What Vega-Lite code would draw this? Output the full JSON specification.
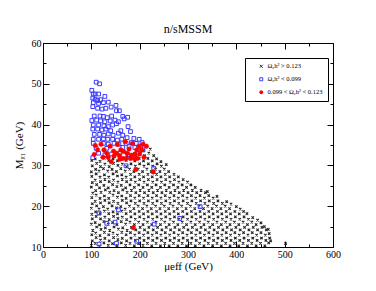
{
"$schema":"https://vega.github.io/schema/vega-lite/v6.json",
"width":290,"height":204,"autosize":"none",
"padding":{"left":43,"top":43,"right":43,"bottom":44},
"background":"white",
"title":{"text":"n/sMSSM","font":"Liberation Serif","fontSize":12,"fontWeight":"normal","color":"black","offset":8,"dy":6,"anchor":"middle"},
"datasets":{
"bk":[
{"u":100,"m":10.4},{"u":102,"m":11.5},{"u":101,"m":13.0},{"u":103,"m":14.1},{"u":100,"m":15.6},{"u":102,"m":16.9},{"u":101,"m":18.0},{"u":100,"m":19.5},{"u":102,"m":20.6},{"u":101,"m":22.1},{"u":103,"m":23.2},{"u":100,"m":24.7},{"u":102,"m":25.8},{"u":101,"m":27.3},{"u":100,"m":28.4},{"u":102,"m":29.9},{"u":101,"m":31.2},
{"u":108,"m":10.9},{"u":110,"m":12.3},{"u":109,"m":13.4},{"u":111,"m":14.9},{"u":108,"m":16.0},{"u":110,"m":17.5},{"u":109,"m":18.6},{"u":111,"m":20.1},{"u":108,"m":21.2},{"u":110,"m":22.7},{"u":109,"m":23.8},{"u":111,"m":25.3},{"u":108,"m":26.4},{"u":110,"m":27.9},{"u":109,"m":29.0},{"u":111,"m":30.5},{"u":108,"m":31.6},
{"u":117,"m":10.2},{"u":119,"m":11.7},{"u":118,"m":12.8},{"u":120,"m":14.3},{"u":117,"m":15.4},{"u":119,"m":16.9},{"u":118,"m":18.2},{"u":116,"m":19.3},{"u":119,"m":20.8},{"u":118,"m":21.9},{"u":120,"m":23.4},{"u":117,"m":24.5},{"u":119,"m":26.0},{"u":118,"m":27.1},{"u":116,"m":28.6},{"u":119,"m":29.7},{"u":118,"m":31.0},
{"u":126,"m":11.0},{"u":128,"m":12.1},{"u":127,"m":13.6},{"u":129,"m":14.7},{"u":126,"m":16.2},{"u":128,"m":17.3},{"u":127,"m":18.8},{"u":125,"m":19.9},{"u":128,"m":21.4},{"u":127,"m":22.5},{"u":129,"m":24.0},{"u":126,"m":25.1},{"u":128,"m":26.6},{"u":127,"m":27.7},{"u":125,"m":29.2},{"u":128,"m":30.3},{"u":127,"m":31.8},
{"u":135,"m":10.4},{"u":137,"m":11.5},{"u":136,"m":13.0},{"u":138,"m":14.1},{"u":135,"m":15.6},{"u":137,"m":16.7},{"u":136,"m":18.2},{"u":134,"m":19.3},{"u":137,"m":20.8},{"u":136,"m":21.9},{"u":138,"m":23.4},{"u":135,"m":24.5},{"u":137,"m":26.0},{"u":136,"m":27.1},{"u":134,"m":28.6},{"u":137,"m":29.7},{"u":136,"m":31.2},
{"u":144,"m":10.8},{"u":146,"m":12.3},{"u":145,"m":13.4},{"u":147,"m":14.9},{"u":144,"m":16.0},{"u":146,"m":17.5},{"u":145,"m":18.6},{"u":143,"m":20.1},{"u":146,"m":21.2},{"u":145,"m":22.7},{"u":147,"m":23.8},{"u":144,"m":25.3},{"u":146,"m":26.4},{"u":145,"m":27.9},{"u":143,"m":29.0},{"u":146,"m":30.5},{"u":145,"m":31.6},
{"u":153,"m":10.3},{"u":155,"m":11.8},{"u":154,"m":12.9},{"u":156,"m":14.4},{"u":153,"m":15.5},{"u":155,"m":17.0},{"u":154,"m":18.1},{"u":152,"m":19.6},{"u":155,"m":20.7},{"u":154,"m":22.2},{"u":156,"m":23.3},{"u":153,"m":24.8},{"u":155,"m":25.9},{"u":154,"m":27.4},{"u":152,"m":28.5},{"u":155,"m":30.0},{"u":154,"m":31.1},
{"u":162,"m":11.0},{"u":164,"m":12.1},{"u":163,"m":13.6},{"u":165,"m":14.7},{"u":162,"m":16.2},{"u":164,"m":17.3},{"u":163,"m":18.8},{"u":161,"m":19.9},{"u":164,"m":21.4},{"u":163,"m":22.5},{"u":165,"m":24.0},{"u":162,"m":25.1},{"u":164,"m":26.6},{"u":163,"m":27.7},{"u":161,"m":29.2},{"u":164,"m":30.3},{"u":163,"m":31.8},
{"u":171,"m":10.4},{"u":173,"m":11.5},{"u":172,"m":13.0},{"u":174,"m":14.1},{"u":171,"m":15.6},{"u":173,"m":16.7},{"u":172,"m":18.2},{"u":170,"m":19.3},{"u":173,"m":20.8},{"u":172,"m":21.9},{"u":174,"m":23.4},{"u":171,"m":24.5},{"u":173,"m":26.0},{"u":172,"m":27.1},{"u":170,"m":28.6},{"u":173,"m":29.7},{"u":172,"m":31.2},{"u":174,"m":32.4},
{"u":180,"m":10.9},{"u":182,"m":12.2},{"u":181,"m":13.5},{"u":183,"m":14.8},{"u":180,"m":16.1},{"u":182,"m":17.4},{"u":181,"m":18.7},{"u":179,"m":20.0},{"u":182,"m":21.3},{"u":181,"m":22.6},{"u":183,"m":23.9},{"u":180,"m":25.2},{"u":182,"m":26.5},{"u":181,"m":27.8},{"u":179,"m":29.1},{"u":182,"m":30.4},{"u":181,"m":31.7},
{"u":189,"m":10.3},{"u":191,"m":11.6},{"u":190,"m":12.9},{"u":192,"m":14.2},{"u":189,"m":15.5},{"u":191,"m":16.8},{"u":190,"m":18.1},{"u":188,"m":19.4},{"u":191,"m":20.7},{"u":190,"m":22.0},{"u":192,"m":23.3},{"u":189,"m":24.6},{"u":191,"m":25.9},{"u":190,"m":27.2},{"u":188,"m":28.5},{"u":191,"m":29.8},{"u":190,"m":31.1},{"u":192,"m":32.4},
{"u":198,"m":10.8},{"u":200,"m":12.2},{"u":199,"m":13.5},{"u":201,"m":14.8},{"u":198,"m":16.1},{"u":200,"m":17.4},{"u":199,"m":18.7},{"u":197,"m":20.0},{"u":200,"m":21.3},{"u":199,"m":22.6},{"u":201,"m":23.9},{"u":198,"m":25.2},{"u":200,"m":26.5},{"u":199,"m":27.8},{"u":197,"m":29.1},{"u":200,"m":30.4},{"u":199,"m":31.7},{"u":201,"m":33.0},
{"u":207,"m":10.4},{"u":209,"m":11.6},{"u":208,"m":12.9},{"u":210,"m":14.2},{"u":207,"m":15.5},{"u":209,"m":16.8},{"u":208,"m":18.1},{"u":206,"m":19.4},{"u":209,"m":20.7},{"u":208,"m":22.0},{"u":210,"m":23.3},{"u":207,"m":24.6},{"u":209,"m":25.9},{"u":208,"m":27.2},{"u":206,"m":28.5},{"u":209,"m":29.8},{"u":208,"m":31.1},{"u":210,"m":32.4},{"u":208,"m":33.6},
{"u":216,"m":10.9},{"u":218,"m":12.2},{"u":217,"m":13.5},{"u":219,"m":14.8},{"u":216,"m":16.1},{"u":218,"m":17.4},{"u":217,"m":18.7},{"u":215,"m":20.0},{"u":218,"m":21.3},{"u":217,"m":22.6},{"u":219,"m":23.9},{"u":216,"m":25.2},{"u":218,"m":26.5},{"u":217,"m":27.8},{"u":215,"m":29.1},{"u":218,"m":30.4},{"u":217,"m":31.7},{"u":219,"m":33.0},{"u":222,"m":34.0},
{"u":225,"m":10.3},{"u":227,"m":11.6},{"u":226,"m":12.9},{"u":228,"m":14.2},{"u":225,"m":15.5},{"u":227,"m":16.8},{"u":226,"m":18.1},{"u":224,"m":19.4},{"u":227,"m":20.7},{"u":226,"m":22.0},{"u":228,"m":23.3},{"u":225,"m":24.6},{"u":227,"m":25.9},{"u":226,"m":27.2},{"u":224,"m":28.5},{"u":227,"m":29.8},{"u":226,"m":31.1},{"u":229,"m":32.4},
{"u":234,"m":10.9},{"u":236,"m":12.2},{"u":235,"m":13.5},{"u":237,"m":14.8},{"u":234,"m":16.1},{"u":236,"m":17.4},{"u":235,"m":18.7},{"u":233,"m":20.0},{"u":236,"m":21.3},{"u":235,"m":22.6},{"u":237,"m":23.9},{"u":234,"m":25.2},{"u":236,"m":26.5},{"u":235,"m":27.8},{"u":233,"m":29.1},{"u":236,"m":30.4},{"u":235,"m":31.6},
{"u":243,"m":10.3},{"u":245,"m":11.6},{"u":244,"m":12.9},{"u":246,"m":14.2},{"u":243,"m":15.5},{"u":245,"m":16.8},{"u":244,"m":18.1},{"u":242,"m":19.4},{"u":245,"m":20.7},{"u":244,"m":22.0},{"u":246,"m":23.3},{"u":243,"m":24.6},{"u":245,"m":25.9},{"u":244,"m":27.2},{"u":242,"m":28.5},{"u":245,"m":29.8},{"u":244,"m":30.9},
{"u":252,"m":10.9},{"u":254,"m":12.2},{"u":253,"m":13.5},{"u":255,"m":14.8},{"u":252,"m":16.1},{"u":254,"m":17.4},{"u":253,"m":18.7},{"u":251,"m":20.0},{"u":254,"m":21.3},{"u":253,"m":22.6},{"u":255,"m":23.9},{"u":252,"m":25.2},{"u":254,"m":26.5},{"u":253,"m":27.8},{"u":251,"m":29.1},{"u":255,"m":30.2},
{"u":261,"m":10.3},{"u":263,"m":11.6},{"u":262,"m":12.9},{"u":264,"m":14.2},{"u":261,"m":15.5},{"u":263,"m":16.8},{"u":262,"m":18.1},{"u":260,"m":19.4},{"u":263,"m":20.7},{"u":262,"m":22.0},{"u":264,"m":23.3},{"u":261,"m":24.6},{"u":263,"m":25.9},{"u":262,"m":27.2},{"u":260,"m":28.5},
{"u":270,"m":10.9},{"u":272,"m":12.2},{"u":271,"m":13.5},{"u":273,"m":14.8},{"u":270,"m":16.1},{"u":272,"m":17.4},{"u":271,"m":18.7},{"u":269,"m":20.0},{"u":272,"m":21.3},{"u":271,"m":22.6},{"u":273,"m":23.9},{"u":270,"m":25.2},{"u":272,"m":26.5},{"u":271,"m":27.8},
{"u":279,"m":10.3},{"u":281,"m":11.6},{"u":280,"m":12.9},{"u":282,"m":14.2},{"u":279,"m":15.5},{"u":281,"m":16.8},{"u":280,"m":18.1},{"u":278,"m":19.4},{"u":281,"m":20.7},{"u":280,"m":22.0},{"u":282,"m":23.3},{"u":279,"m":24.6},{"u":281,"m":25.9},{"u":280,"m":27.2},
{"u":288,"m":10.9},{"u":290,"m":12.2},{"u":289,"m":13.5},{"u":291,"m":14.8},{"u":288,"m":16.1},{"u":290,"m":17.4},{"u":289,"m":18.7},{"u":287,"m":20.0},{"u":290,"m":21.3},{"u":289,"m":22.6},{"u":291,"m":23.9},{"u":288,"m":25.2},{"u":290,"m":26.5},
{"u":297,"m":10.3},{"u":299,"m":11.6},{"u":298,"m":12.9},{"u":300,"m":14.2},{"u":297,"m":15.5},{"u":299,"m":16.8},{"u":298,"m":18.1},{"u":296,"m":19.4},{"u":299,"m":20.7},{"u":298,"m":22.0},{"u":300,"m":23.3},{"u":297,"m":24.6},{"u":299,"m":25.9},
{"u":306,"m":10.9},{"u":308,"m":12.2},{"u":307,"m":13.5},{"u":309,"m":14.8},{"u":306,"m":16.1},{"u":308,"m":17.4},{"u":307,"m":18.7},{"u":305,"m":20.0},{"u":308,"m":21.3},{"u":307,"m":22.6},{"u":309,"m":23.9},{"u":306,"m":25.2},
{"u":315,"m":10.3},{"u":317,"m":11.6},{"u":316,"m":12.9},{"u":318,"m":14.2},{"u":315,"m":15.5},{"u":317,"m":16.8},{"u":316,"m":18.1},{"u":314,"m":19.4},{"u":317,"m":20.7},{"u":316,"m":22.0},{"u":318,"m":23.3},{"u":315,"m":24.6},
{"u":324,"m":10.9},{"u":326,"m":12.2},{"u":325,"m":13.5},{"u":327,"m":14.8},{"u":324,"m":16.1},{"u":326,"m":17.4},{"u":325,"m":18.7},{"u":323,"m":20.0},{"u":326,"m":21.3},{"u":325,"m":22.6},{"u":327,"m":23.9},
{"u":333,"m":10.3},{"u":335,"m":11.6},{"u":334,"m":12.9},{"u":336,"m":14.2},{"u":333,"m":15.5},{"u":335,"m":16.8},{"u":334,"m":18.1},{"u":332,"m":19.4},{"u":335,"m":20.7},{"u":334,"m":22.0},{"u":336,"m":23.3},
{"u":342,"m":10.9},{"u":344,"m":12.2},{"u":343,"m":13.5},{"u":345,"m":14.8},{"u":342,"m":16.1},{"u":344,"m":17.4},{"u":343,"m":18.7},{"u":341,"m":20.0},{"u":344,"m":21.3},{"u":343,"m":22.6},{"u":340,"m":23.6},
{"u":351,"m":10.3},{"u":353,"m":11.6},{"u":352,"m":12.9},{"u":354,"m":14.2},{"u":351,"m":15.5},{"u":353,"m":16.8},{"u":352,"m":18.1},{"u":350,"m":19.4},{"u":353,"m":20.7},{"u":352,"m":22.0},
{"u":360,"m":10.9},{"u":362,"m":12.2},{"u":361,"m":13.5},{"u":363,"m":14.8},{"u":360,"m":16.1},{"u":362,"m":17.4},{"u":361,"m":18.7},{"u":359,"m":20.0},{"u":362,"m":21.3},{"u":360,"m":22.4},
{"u":369,"m":10.3},{"u":371,"m":11.6},{"u":370,"m":12.9},{"u":372,"m":14.2},{"u":369,"m":15.5},{"u":371,"m":16.8},{"u":370,"m":18.1},{"u":368,"m":19.4},{"u":371,"m":20.7},
{"u":378,"m":10.9},{"u":380,"m":12.2},{"u":379,"m":13.5},{"u":381,"m":14.8},{"u":378,"m":16.1},{"u":380,"m":17.4},{"u":379,"m":18.7},{"u":377,"m":20.0},{"u":380,"m":21.1},
{"u":387,"m":10.3},{"u":389,"m":11.6},{"u":388,"m":12.9},{"u":390,"m":14.2},{"u":387,"m":15.5},{"u":389,"m":16.8},{"u":388,"m":18.1},{"u":386,"m":19.4},{"u":389,"m":20.5},
{"u":396,"m":10.9},{"u":398,"m":12.2},{"u":397,"m":13.5},{"u":399,"m":14.8},{"u":396,"m":16.1},{"u":398,"m":17.4},{"u":397,"m":18.7},{"u":400,"m":19.9},
{"u":405,"m":10.3},{"u":407,"m":11.6},{"u":406,"m":12.9},{"u":408,"m":14.2},{"u":405,"m":15.5},{"u":407,"m":16.8},{"u":406,"m":18.1},{"u":408,"m":19.3},
{"u":414,"m":10.9},{"u":416,"m":12.2},{"u":415,"m":13.5},{"u":417,"m":14.8},{"u":414,"m":16.1},{"u":416,"m":17.4},{"u":415,"m":18.7},
{"u":423,"m":10.3},{"u":425,"m":11.6},{"u":424,"m":12.9},{"u":426,"m":14.2},{"u":423,"m":15.5},{"u":425,"m":16.8},{"u":422,"m":18.2},
{"u":432,"m":10.9},{"u":434,"m":12.2},{"u":433,"m":13.5},{"u":435,"m":14.8},{"u":432,"m":16.1},{"u":434,"m":17.2},
{"u":441,"m":10.3},{"u":443,"m":11.6},{"u":442,"m":12.9},{"u":444,"m":14.2},{"u":441,"m":15.5},{"u":444,"m":16.6},
{"u":450,"m":10.9},{"u":452,"m":12.2},{"u":451,"m":13.5},{"u":453,"m":14.8},{"u":451,"m":15.9},
{"u":459,"m":10.3},{"u":461,"m":11.6},{"u":460,"m":12.9},{"u":462,"m":14.2},{"u":458,"m":15.0},
{"u":467,"m":11.0},{"u":469,"m":12.2},{"u":468,"m":13.3},{"u":466,"m":14.3},{"u":471,"m":11.5},{"u":502,"m":10.8}
],
"bl":[
{"u":110,"m":50.4},{"u":117,"m":50.0},{"u":101,"m":48.4},{"u":104,"m":47.5},{"u":108,"m":47.5},{"u":115,"m":47.5},{"u":128,"m":46.9},{"u":103,"m":46.5},{"u":108,"m":46.2},{"u":113,"m":45.9},{"u":119,"m":46.1},{"u":104,"m":45.4},{"u":115,"m":45.2},{"u":125,"m":45.4},{"u":135,"m":45.5},{"u":151,"m":44.7},{"u":103,"m":44.4},{"u":113,"m":44.0},{"u":122,"m":43.8},{"u":130,"m":44.0},{"u":141,"m":44.3},{"u":152,"m":43.4},{"u":158,"m":43.4},{"u":106,"m":42.1},{"u":118,"m":42.1},{"u":125,"m":42.0},{"u":133,"m":41.7},{"u":142,"m":42.1},{"u":165,"m":42.0},{"u":175,"m":41.8},{"u":101,"m":41.0},{"u":111,"m":41.1},{"u":119,"m":40.9},{"u":128,"m":40.7},{"u":139,"m":40.9},{"u":149,"m":41.1},{"u":156,"m":40.7},{"u":168,"m":41.4},{"u":104,"m":39.9},{"u":115,"m":39.9},{"u":126,"m":39.7},{"u":135,"m":39.5},{"u":144,"m":39.9},{"u":152,"m":40.2},{"u":103,"m":38.9},{"u":113,"m":38.9},{"u":122,"m":38.7},{"u":130,"m":38.9},{"u":140,"m":38.5},{"u":161,"m":38.5},{"u":176,"m":39.5},{"u":106,"m":37.6},{"u":117,"m":37.6},{"u":126,"m":37.4},{"u":135,"m":37.7},{"u":145,"m":37.4},{"u":156,"m":37.9},{"u":165,"m":37.4},{"u":181,"m":38.3},{"u":104,"m":36.4},{"u":115,"m":36.4},{"u":125,"m":36.5},{"u":134,"m":36.4},{"u":144,"m":36.4},{"u":154,"m":36.2},{"u":163,"m":36.4},{"u":174,"m":36.8},{"u":188,"m":36.6},{"u":199,"m":36.4},{"u":104,"m":35.4},{"u":125,"m":35.4},{"u":135,"m":35.2},{"u":147,"m":35.4},{"u":157,"m":35.2},{"u":172,"m":35.4},{"u":183,"m":35.6},{"u":193,"m":35.4},{"u":205,"m":35.6},{"u":110,"m":34.2},{"u":132,"m":34.2},{"u":165,"m":34.4},{"u":178,"m":34.6},{"u":190,"m":34.4},{"u":202,"m":34.4},{"u":103,"m":31.9},{"u":115,"m":33.0},{"u":128,"m":32.6},{"u":142,"m":32.8},{"u":159,"m":33.0},{"u":176,"m":32.6},{"u":197,"m":33.0},{"u":207,"m":33.8},
{"u":172,"m":29.9},{"u":229,"m":29.3},{"u":116,"m":10.7},{"u":152,"m":10.9},{"u":194,"m":11.4},{"u":156,"m":19.1},{"u":116,"m":18.3},{"u":132,"m":15.8},{"u":149,"m":16.1},{"u":230,"m":15.6},{"u":283,"m":17.0},{"u":325,"m":19.9}
],
"rd":[
{"u":108,"m":34.9},{"u":120,"m":35.2},{"u":139,"m":34.7},{"u":154,"m":35.1},{"u":170,"m":35.8},{"u":185,"m":35.4},{"u":199,"m":34.7},{"u":207,"m":35.2},{"u":214,"m":34.7},{"u":113,"m":33.8},{"u":126,"m":33.8},{"u":146,"m":33.5},{"u":161,"m":33.8},{"u":178,"m":34.0},{"u":194,"m":33.8},{"u":204,"m":33.8},{"u":106,"m":32.7},{"u":124,"m":32.0},{"u":135,"m":32.0},{"u":147,"m":32.3},{"u":158,"m":32.4},{"u":172,"m":31.7},{"u":183,"m":32.5},{"u":195,"m":31.7},{"u":209,"m":32.0},{"u":141,"m":30.9},{"u":159,"m":31.5},{"u":174,"m":33.0},{"u":190,"m":32.8},{"u":200,"m":32.8},{"u":167,"m":33.4},{"u":152,"m":33.0},{"u":132,"m":33.0},{"u":181,"m":31.7},{"u":189,"m":31.7},{"u":165,"m":31.7},{"u":192,"m":29.0},{"u":228,"m":28.4},{"u":187,"m":14.7}
]
},
"layer":[
{"encoding":{
  "x":{"field":"u","type":"quantitative","scale":{"domain":[0,600],"nice":false,"zero":false},
       "axis":{"orient":"bottom","values":[0,50,100,150,200,250,300,350,400,450,500,550,600],"labelExpr":"datum.value % 100 === 0 ? datum.label : ''","tickSize":{"condition":{"test":"datum.value % 100 === 0","value":-6},"value":-3},"labelPadding":8,"labelFontSize":10,"title":"μeff (GeV)","titleFontSize":11,"titlePadding":1}},
  "y":{"field":"m","type":"quantitative","scale":{"domain":[10,60],"nice":false,"zero":false},
       "axis":{"orient":"left","values":[10,15,20,25,30,35,40,45,50,55,60],"labelExpr":"datum.value % 10 === 0 ? datum.label : ''","tickSize":{"condition":{"test":"datum.value % 10 === 0","value":-6},"value":-3},"labelPadding":8,"labelFontSize":10,"title":"Mᵪ₁ (GeV)","titleFontSize":11,"titlePadding":7}}
 },
 "layer":[
  {"data":{"name":"bk"},"mark":{"type":"point","opacity":1,"strokeWidth":1.1},
   "encoding":{
    "shape":{"datum":"Ωᵪh² > 0.123","type":"nominal","scale":{"domain":["Ωᵪh² > 0.123","Ωᵪh² < 0.099","0.099 < Ωᵪh² < 0.123"],"range":["M-1,-1L1,1M-1,1L1,-1","square","circle"]},"legend":{"title":null}},
    "stroke":{"datum":"Ωᵪh² > 0.123","type":"nominal","scale":{"domain":["Ωᵪh² > 0.123","Ωᵪh² < 0.099","0.099 < Ωᵪh² < 0.123"],"range":["#222222","#3a3aff","#ff0000"]},"legend":{"title":null}},
    "fill":{"datum":"Ωᵪh² > 0.123","type":"nominal","scale":{"domain":["Ωᵪh² > 0.123","Ωᵪh² < 0.099","0.099 < Ωᵪh² < 0.123"],"range":["transparent","transparent","#ff0000"]},"legend":{"title":null}},
    "size":{"value":6}}},
  {"data":{"name":"bl"},"mark":{"type":"point","opacity":1,"strokeWidth":1},
   "encoding":{
    "shape":{"datum":"Ωᵪh² < 0.099","type":"nominal"},
    "stroke":{"datum":"Ωᵪh² < 0.099","type":"nominal"},
    "fill":{"datum":"Ωᵪh² < 0.099","type":"nominal"},
    "size":{"value":14}}},
  {"data":{"name":"rd"},"mark":{"type":"point","opacity":1,"strokeWidth":0.5},
   "encoding":{
    "shape":{"datum":"0.099 < Ωᵪh² < 0.123","type":"nominal"},
    "stroke":{"datum":"0.099 < Ωᵪh² < 0.123","type":"nominal"},
    "fill":{"datum":"0.099 < Ωᵪh² < 0.123","type":"nominal"},
    "size":{"value":20}}}
 ]},
{"data":{"name":"bk"},"transform":[{"filter":"datum.u > 500"}],"mark":{"type":"point","opacity":0},
 "encoding":{
  "x":{"field":"u","type":"quantitative","axis":{"orient":"top","values":[0,50,100,150,200,250,300,350,400,450,500,550,600],"labels":false,"title":null,"tickSize":{"condition":{"test":"datum.value % 100 === 0","value":-6},"value":-3}}},
  "y":{"field":"m","type":"quantitative","axis":{"orient":"right","values":[10,15,20,25,30,35,40,45,50,55,60],"labels":false,"title":null,"tickSize":{"condition":{"test":"datum.value % 10 === 0","value":-6},"value":-3}}}
 }}
],
"resolve":{"axis":{"x":"independent","y":"independent"}},
"config":{"view":{"stroke":"black","strokeWidth":1},"axis":{"grid":false,"domain":false,"tickColor":"black","labelColor":"black","titleColor":"black","labelFont":"Liberation Serif","titleFont":"Liberation Serif","titleFontWeight":"normal","labelFlush":false},
 "legend":{"orient":"none","legendX":202,"legendY":15,"padding":5,"strokeColor":"black","fillColor":"white","labelFont":"Liberation Serif","labelFontSize":6.5,"labelColor":"black","symbolSize":9,"symbolStrokeWidth":1,"rowPadding":5,"symbolOffset":8,"labelOffset":3}}
}
